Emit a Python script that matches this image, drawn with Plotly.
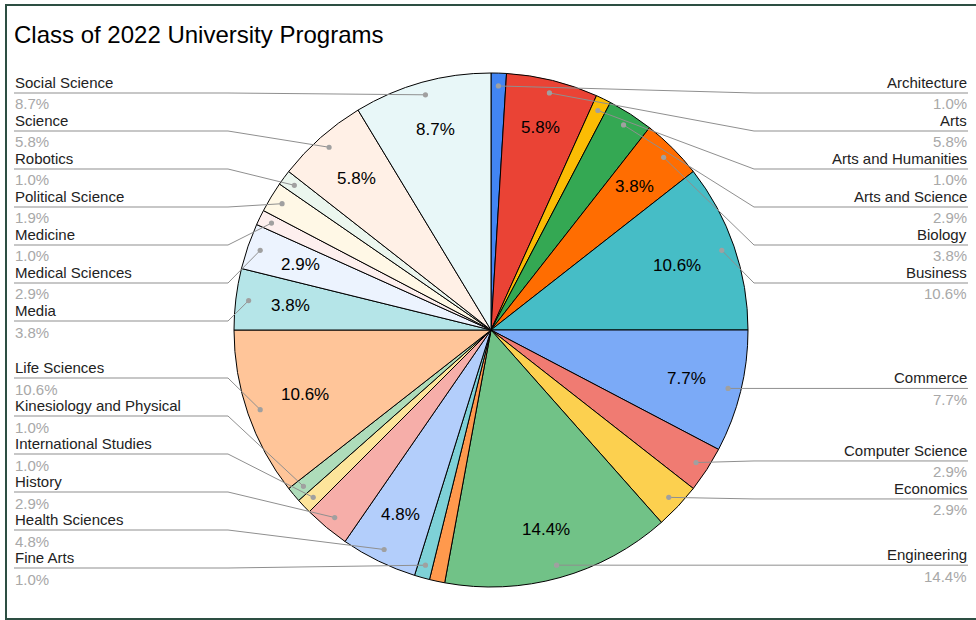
import math
import plotly.graph_objects as go

# ---------------- data ----------------
title = "Class of 2022 University Programs"
programs = ["Architecture", "Arts", "Arts and Humanities", "Arts and Science", "Biology",
            "Business", "Commerce", "Computer Science", "Economics", "Engineering",
            "Other", "Fine Arts", "Health Sciences", "History", "International Studies",
            "Kinesiology and Physical", "Life Sciences", "Media", "Medical Sciences",
            "Medicine", "Political Science", "Robotics", "Science", "Social Science"]
students = [1, 6, 1, 3, 4, 11, 8, 3, 3, 15, 1, 1, 5, 3, 1, 1, 11, 4, 3, 1, 2, 1, 6, 9]
unlabelled = ["Other"]          # slice whose outside label is dropped in the reference
colors = ["#4285F4", "#EA4335", "#FBBC04", "#34A853", "#FF6D01", "#46BDC6",
          "#7BAAF7", "#F07B72", "#FCD04F", "#71C287", "#FF994D", "#7ED1D7",
          "#B3CEFB", "#F6AEA9", "#FDE49B", "#AEDCBA", "#FFC599", "#B5E5E8",
          "#ECF3FE", "#FDEFEE", "#FFF8E6", "#EBF6EE", "#FFF0E6", "#E8F7F8"]

# ---------------- layout constants (pixels) ----------------
W, H = 976, 620
CX, CY, R = 491, 330, 257
DOT_R = 0.95 * R
ELBOW = R + 6
LEFT_X, RIGHT_X = 14, 968
TOP_Y, BOT_Y, GAP = 93, 568, 38
TEXT_CORNER_R = 0.865 * R
FONT = "Liberation Sans, Arial, sans-serif"
IN_SIZE = 17
LBL_SIZE = 15
LINE_COL = "#8f8f8f"
DOT_COL = "#a0a0a0"

CHAR_W = {"0": .556, "1": .556, "2": .556, "3": .556, "4": .556, "5": .556,
          "6": .556, "7": .556, "8": .556, "9": .556, ".": .278, "%": .889}


def px(x):
    return x / W


def py(y):
    return 1 - y / H


def polar(r, ang):
    a = math.radians(ang)
    return CX + r * math.sin(a), CY - r * math.cos(a)


total = sum(students)
pct = [v / total * 100 for v in students]
starts, ends = [], []
acc = 0
for v in students:
    starts.append(acc / total * 360)
    acc += v
    ends.append(acc / total * 360)
mids = [(s + e) / 2 for s, e in zip(starts, ends)]

shapes = []
annotations = []

# title
annotations.append(dict(x=px(12), y=py(35), xref="paper", yref="paper", text=title,
                        showarrow=False, xanchor="left", yanchor="middle",
                        font=dict(family=FONT, size=24, color="#000000")))

# border frame
shapes.append(dict(type="rect", xref="paper", yref="paper", x0=px(6), x1=px(1000),
                   y0=py(619), y1=py(5), line=dict(color="#2d4f43", width=2), layer="above"))

# ---------------- inside percentage labels ----------------
for i, (v, m) in enumerate(zip(pct, mids)):
    txt = f"{v:.1f}%"
    w = sum(CHAR_W.get(ch, .556) for ch in txt) * IN_SIZE
    h = IN_SIZE
    a = math.radians(m)
    u = (math.sin(a), -math.cos(a))
    t = (-u[1], u[0])
    c = (math.copysign(w / 2, u[0]), math.copysign(h / 2, u[1]))
    uc = u[0] * c[0] + u[1] * c[1]
    cc = c[0] ** 2 + c[1] ** 2
    rho = -uc + math.sqrt(uc * uc - cc + TEXT_CORNER_R ** 2)
    half = math.radians((ends[i] - starts[i]) / 2)
    fits = True
    for sx in (-1, 1):
        for sy in (-1, 1):
            cx_, cy_ = sx * w / 2, sy * h / 2
            pu = rho + cx_ * u[0] + cy_ * u[1]
            pt = cx_ * t[0] + cy_ * t[1]
            if pu <= 0 or abs(math.atan2(pt, pu)) > half or math.hypot(pu, pt) > R:
                fits = False
    if not fits:
        continue
    x, y = CX + rho * u[0], CY + rho * u[1]
    annotations.append(dict(x=px(x), y=py(y), xref="paper", yref="paper", text=txt,
                            showarrow=False, xanchor="center", yanchor="middle",
                            font=dict(family=FONT, size=IN_SIZE, color="#000000")))

# ---------------- outside labels with leader lines ----------------
def spread(items):
    clusters = [[it] for it in sorted(items)]

    def place(cl):
        n = len(cl)
        mean = sum(d for d, _ in cl) / n
        s = mean - (n - 1) * GAP / 2
        return max(TOP_Y, min(s, BOT_Y - (n - 1) * GAP))

    changed = True
    while changed:
        changed = False
        st = [place(c) for c in clusters]
        for k in range(len(clusters) - 1):
            end_k = st[k] + (len(clusters[k]) - 1) * GAP
            if st[k + 1] - end_k < GAP - 1e-9:
                clusters[k] = clusters[k] + clusters[k + 1]
                del clusters[k + 1]
                changed = True
                break
    out = {}
    for c in clusters:
        s = place(c)
        for j, (_, idx) in enumerate(c):
            out[idx] = s + j * GAP
    return out


left_items, right_items = [], []
dots = {}
for i, m in enumerate(mids):
    if programs[i] in unlabelled:
        continue
    dx, dy = polar(DOT_R, m)
    dots[i] = (dx, dy)
    (left_items if m > 180 else right_items).append((dy, i))

for items, side in ((left_items, "left"), (right_items, "right")):
    ys = spread(items)
    for i, L in ys.items():
        dx, dy = dots[i]
        if side == "left":
            x_txt, anchor, x_elb = LEFT_X, "left", CX - ELBOW
            x_lbl = x_txt - 1
        else:
            x_txt, anchor, x_elb = RIGHT_X, "right", CX + ELBOW
            x_lbl = x_txt + 1
        path = f"M {px(x_txt)},{py(L)} L {px(x_elb)},{py(L)} L {px(dx)},{py(dy)}"
        shapes.append(dict(type="path", xref="paper", yref="paper", path=path,
                           line=dict(color=LINE_COL, width=1), layer="above"))
        rr = 2.6
        shapes.append(dict(type="circle", xref="paper", yref="paper",
                           x0=px(dx - rr), x1=px(dx + rr), y0=py(dy + rr), y1=py(dy - rr),
                           fillcolor=DOT_COL, line=dict(width=0), layer="above"))
        annotations.append(dict(x=px(x_lbl), y=py(L - 10.5), xref="paper", yref="paper",
                                text=programs[i], showarrow=False, xanchor=anchor,
                                yanchor="middle",
                                font=dict(family=FONT, size=LBL_SIZE, color="#222222")))
        annotations.append(dict(x=px(x_lbl), y=py(L + 11), xref="paper", yref="paper",
                                text=f"{pct[i]:.1f}%", showarrow=False, xanchor=anchor,
                                yanchor="middle",
                                font=dict(family=FONT, size=LBL_SIZE, color="#a8a8a8")))

fig = go.Figure(go.Pie(
    labels=programs, values=students, sort=False, direction="clockwise", rotation=0,
    marker=dict(colors=colors, line=dict(color="#000000", width=1)),
    textinfo="none", hoverinfo="label+percent",
    domain=dict(x=[px(CX - R), px(CX + R)], y=[py(CY + R), py(CY - R)]),
))
fig.update_layout(width=W, height=H, margin=dict(l=0, r=0, t=0, b=0),
                  paper_bgcolor="white", plot_bgcolor="white", showlegend=False,
                  shapes=shapes, annotations=annotations)
fig.write_html("out.html", config={"displayModeBar": False},
               post_script="document.body.style.margin='0px';"
                           "document.body.style.overflow='hidden';")
